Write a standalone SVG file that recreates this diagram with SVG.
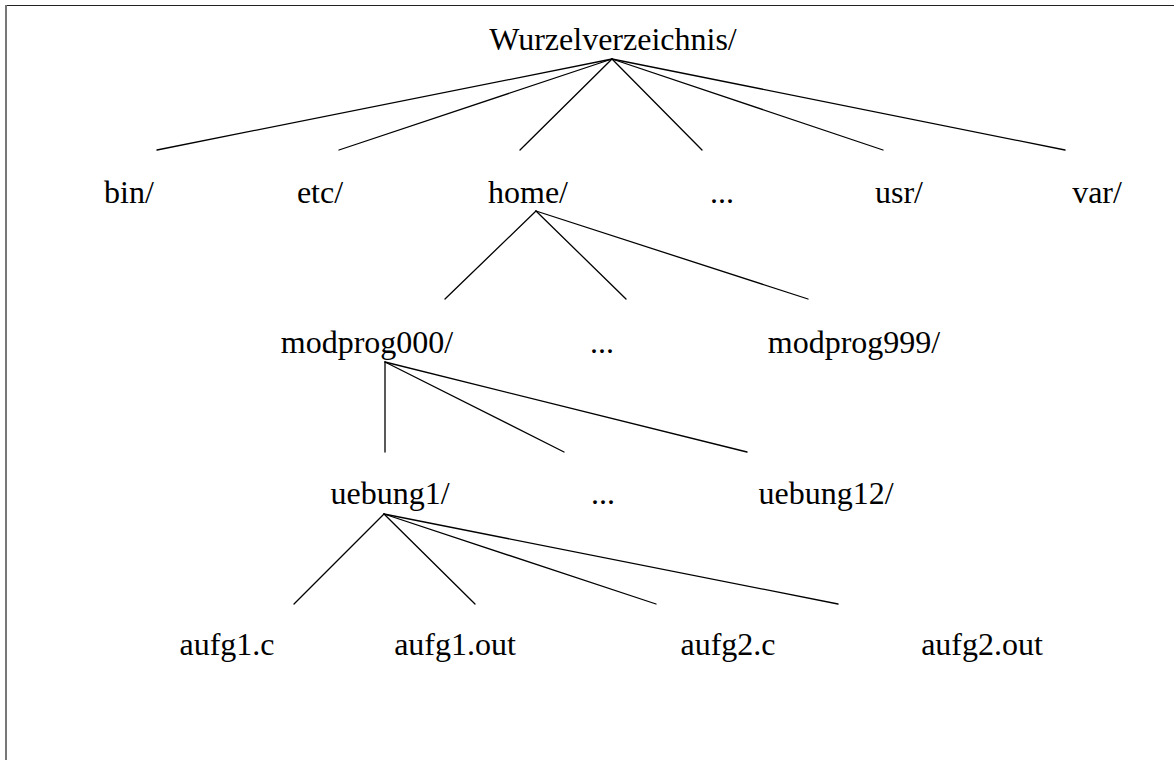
<svg xmlns="http://www.w3.org/2000/svg" width="1174" height="760" viewBox="0 0 1174 760">
  <style>
    .lbl { font-family: "Liberation Serif", "Times New Roman", serif; font-size: 32px; fill: #000; text-anchor: middle; }
    .edge { stroke: #000; stroke-width: 1.3; fill: none; stroke-linecap: round; }
  </style>
  <rect width="1174" height="760" fill="#fff"/>
  <!-- page frame: top and left edges -->
  <line x1="5" y1="5.5" x2="1174" y2="5.5" stroke="#222" stroke-width="1.2"/>
  <line x1="6" y1="5" x2="6" y2="760" stroke="#777" stroke-width="2"/>

  <g id="connectors">
    <!-- root to first level -->
    <line class="edge" x1="612" y1="59" x2="157" y2="150"/>
    <line class="edge" x1="612" y1="59" x2="339" y2="150"/>
    <line class="edge" x1="612" y1="59" x2="520" y2="150"/>
    <line class="edge" x1="612" y1="59" x2="702" y2="150"/>
    <line class="edge" x1="612" y1="59" x2="883" y2="150"/>
    <line class="edge" x1="612" y1="59" x2="1065" y2="150"/>
    <!-- home -->
    <line class="edge" x1="536" y1="211" x2="445" y2="299"/>
    <line class="edge" x1="536" y1="211" x2="626" y2="299"/>
    <line class="edge" x1="536" y1="211" x2="808" y2="299"/>
    <!-- modprog000 -->
    <line class="edge" x1="385" y1="362" x2="385" y2="452"/>
    <line class="edge" x1="385" y1="362" x2="564" y2="452"/>
    <line class="edge" x1="385" y1="362" x2="747" y2="452"/>
    <!-- uebung1 -->
    <line class="edge" x1="384" y1="514" x2="294" y2="604"/>
    <line class="edge" x1="384" y1="514" x2="475" y2="604"/>
    <line class="edge" x1="384" y1="514" x2="656" y2="604"/>
    <line class="edge" x1="384" y1="514" x2="838" y2="604"/>
  </g>

  <g id="n-root"><text class="lbl" x="613" y="50">Wurzelverzeichnis/</text></g>

  <g id="n-bin"><text class="lbl" x="129" y="203">bin/</text></g>
  <g id="n-etc"><text class="lbl" x="320" y="203">etc/</text></g>
  <g id="n-home"><text class="lbl" x="528" y="203">home/</text></g>
  <g id="n-dots1"><text class="lbl" x="722" y="203">...</text></g>
  <g id="n-usr"><text class="lbl" x="899" y="203">usr/</text></g>
  <g id="n-var"><text class="lbl" x="1097" y="203">var/</text></g>

  <g id="n-modprog000"><text class="lbl" x="367" y="353">modprog000/</text></g>
  <g id="n-dots2"><text class="lbl" x="602" y="353">...</text></g>
  <g id="n-modprog999"><text class="lbl" x="854" y="353">modprog999/</text></g>

  <g id="n-uebung1"><text class="lbl" x="390" y="504">uebung1/</text></g>
  <g id="n-dots3"><text class="lbl" x="603" y="504">...</text></g>
  <g id="n-uebung12"><text class="lbl" x="826" y="504">uebung12/</text></g>

  <g id="n-aufg1c"><text class="lbl" x="227" y="655">aufg1.c</text></g>
  <g id="n-aufg1out"><text class="lbl" x="455" y="655">aufg1.out</text></g>
  <g id="n-aufg2c"><text class="lbl" x="728" y="655">aufg2.c</text></g>
  <g id="n-aufg2out"><text class="lbl" x="982" y="655">aufg2.out</text></g>
</svg>
